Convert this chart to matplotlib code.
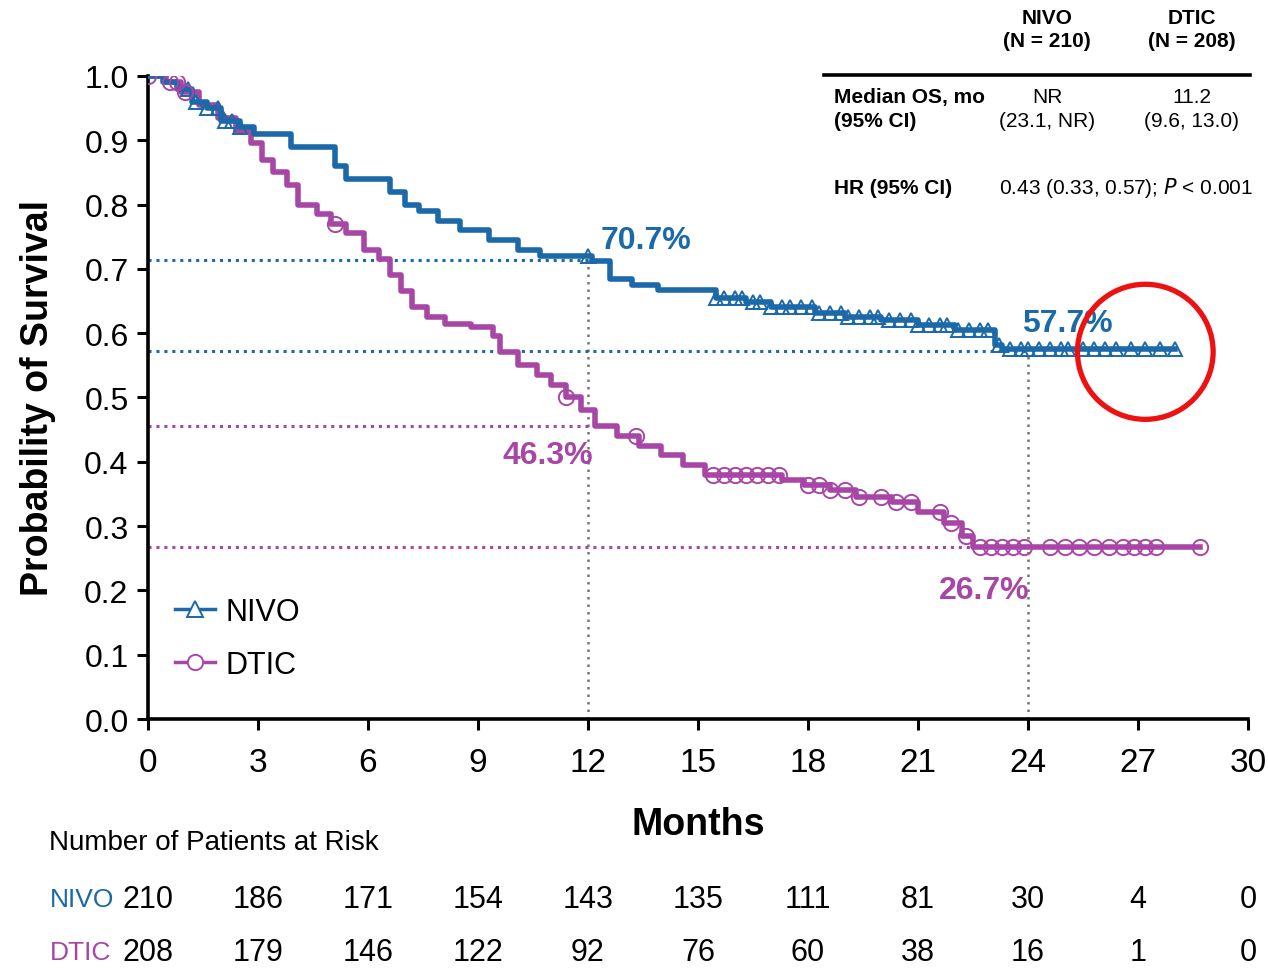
import numpy as np
import matplotlib
matplotlib.use('Agg')
from matplotlib import pyplot as plt
from matplotlib.lines import Line2D
from matplotlib.patches import Ellipse
import matplotlib.transforms as mtransforms

# data
nivo_t = [0, 0.4, 0.8, 1.2, 1.6, 2.0, 2.5, 2.9, 3.9, 5.1, 5.4, 6.6, 7.0, 7.4, 7.9, 8.5,
          9.3, 10.1, 10.7, 12.1, 12.6, 13.2, 13.9, 15.5, 16.3, 17.0, 18.2, 19.0, 20.0,
          21.0, 22.0, 23.1, 23.3, 28.0]
nivo_s = [1.0, 0.99, 0.98, 0.96, 0.95, 0.93, 0.92, 0.91, 0.89, 0.86, 0.84, 0.82, 0.80,
          0.79, 0.775, 0.76, 0.745, 0.73, 0.72, 0.712, 0.685, 0.675, 0.667, 0.655, 0.648,
          0.64, 0.632, 0.625, 0.62, 0.612, 0.605, 0.582, 0.575, 0.575]
nivo_cens = [1.1, 1.3, 1.6, 1.9, 2.1, 2.3, 2.5, 12.0, 15.5, 15.7, 16.0, 16.2, 16.5, 16.7,
             17.0, 17.3, 17.5, 17.8, 18.1, 18.3, 18.6, 18.9, 19.1, 19.4, 19.7, 19.9, 20.2,
             20.5, 20.8, 21.0, 21.3, 21.6, 21.8, 22.1, 22.4, 22.7, 22.9, 23.2, 23.5, 23.8,
             24.0, 24.3, 24.6, 24.9, 25.1, 25.5, 25.8, 26.1, 26.4, 26.8, 27.2, 27.6, 28.0]

dtic_t = [0, 0.5, 0.9, 1.4, 1.9, 2.4, 2.8, 3.1, 3.4, 3.8, 4.1, 4.6, 5.0, 5.4, 5.9, 6.3,
          6.6, 6.9, 7.2, 7.6, 8.1, 8.8, 9.4, 9.6, 10.1, 10.6, 11.0, 11.4, 11.8, 12.2,
          12.8, 13.4, 14.0, 14.6, 15.2, 17.3, 17.9, 18.6, 19.3, 20.3, 21.0, 21.7, 22.2,
          22.5, 28.7]
dtic_s = [1.0, 0.99, 0.975, 0.955, 0.935, 0.915, 0.895, 0.87, 0.85, 0.83, 0.80, 0.785,
          0.77, 0.755, 0.73, 0.715, 0.69, 0.665, 0.64, 0.625, 0.615, 0.61, 0.595, 0.57,
          0.55, 0.535, 0.52, 0.50, 0.48, 0.455, 0.44, 0.425, 0.41, 0.395, 0.38, 0.372,
          0.364, 0.356, 0.345, 0.337, 0.322, 0.305, 0.285, 0.267, 0.267]
dtic_cens = [0.0, 0.6, 0.8, 1.0, 5.1, 11.4, 13.3, 15.4, 15.7, 16.0, 16.3, 16.6, 16.9,
             17.2, 18.0, 18.3, 18.6, 19.0, 19.4, 20.0, 20.4, 20.8, 21.6, 21.9, 22.3, 22.7,
             23.0, 23.3, 23.6, 23.9, 24.6, 25.0, 25.4, 25.8, 26.2, 26.6, 26.9, 27.2, 27.5,
             28.7]

ticks_x = [0, 3, 6, 9, 12, 15, 18, 21, 24, 27, 30]
risk_nivo = [210, 186, 171, 154, 143, 135, 111, 81, 30, 4, 0]
risk_dtic = [208, 179, 146, 122, 92, 76, 60, 38, 16, 1, 0]

# landmark rates (label text, line height, time)
nivo_marks = [('70.7%', 0.713, 12), ('57.7%', 0.572, 24)]
dtic_marks = [('46.3%', 0.455, 12), ('26.7%', 0.267, 24)]

blue = '#1b69a8'
pink = '#a846a6'
plt.rcParams['font.family'] = ['Liberation Sans', 'DejaVu Sans']

fig = plt.figure(figsize=(12.68, 9.7), dpi=100)
ax = fig.add_axes([0.1167, 0.2577, 0.8675, 0.663])


def surv_at(t, s, pts):
    idx = np.searchsorted(t, pts, side='right') - 1
    return np.array(s)[idx]


ax.step(nivo_t, nivo_s, where='post', color=blue, lw=4, zorder=4)
ax.plot(nivo_cens, surv_at(nivo_t, nivo_s, nivo_cens), ls='none', marker='^', ms=10,
        mfc='none', mec=blue, mew=1.4, zorder=5)
ax.step(dtic_t, dtic_s, where='post', color=pink, lw=4, zorder=3)
ax.plot(dtic_cens, surv_at(dtic_t, dtic_s, dtic_cens), ls='none', marker='o', ms=11,
        mfc='none', mec=pink, mew=1.4, zorder=5)

# landmark guides
for lab, yv, tx in nivo_marks:
    ax.plot([0, tx], [yv, yv], ls=(0, (1, 1.6)), color=blue, lw=2.2, zorder=2)
for lab, yv, tx in dtic_marks:
    ax.plot([0, tx], [yv, yv], ls=(0, (1, 1.6)), color=pink, lw=2.2, zorder=2)
ax.plot([12, 12], [0, 0.713], ls=(0, (1, 2)), color='#777777', lw=1.8, zorder=1)
ax.plot([24, 24], [0, 0.572], ls=(0, (1, 2)), color='#777777', lw=1.8, zorder=1)

pct = dict(fontsize=23, fontweight='bold')
ax.text(12.35, 0.745, nivo_marks[0][0], color=blue, va='center', ha='left', **pct)
ax.text(23.85, 0.616, nivo_marks[1][0], color=blue, va='center', ha='left', **pct)
ax.text(12.15, 0.41, dtic_marks[0][0], color=pink, va='center', ha='right', **pct)
ax.text(24.05, 0.2, dtic_marks[1][0], color=pink, va='center', ha='right', **pct)

# red highlight circle
ax.add_patch(Ellipse((27.2, 0.571), 3.7, 0.21, fill=False, ec='#ee1111', lw=3.8,
                     clip_on=False, zorder=6))

ax.set_xlim(0, 30)
ax.set_ylim(0, 1.0)
ax.set_xticks(ticks_x)
ax.set_yticks(np.arange(0, 1.01, 0.1))
ax.set_yticklabels(['%.1f' % v for v in np.arange(0, 1.01, 0.1)], fontsize=23)
ax.set_xticklabels([str(v) for v in ticks_x], fontsize=24)
for sp in ['top', 'right']:
    ax.spines[sp].set_visible(False)
for sp in ['left', 'bottom']:
    ax.spines[sp].set_linewidth(2.6)
ax.tick_params(width=2.2, length=8, direction='out', pad=6)
ax.tick_params(axis='x', pad=12)
ax.set_ylabel('Probability of Survival', fontsize=27, fontweight='bold', labelpad=20)
ax.set_xlabel('Months', fontsize=27, fontweight='bold', labelpad=20)

handles = [Line2D([], [], color=blue, lw=2.5, marker='^', ms=11, mfc='white', mec=blue, mew=1.4),
           Line2D([], [], color=pink, lw=2.5, marker='o', ms=11, mfc='white', mec=pink, mew=1.4)]
ax.legend(handles, ['NIVO', 'DTIC'], loc='lower left', bbox_to_anchor=(0.0, 0.018),
          frameon=False, handlelength=1.3, labelspacing=0.75, handletextpad=0.35,
          prop={'size': 22})

# summary table (top right)
tb = dict(fontsize=15, linespacing=1.3)
fig.text(0.8257, 0.991, 'NIVO\n(N = 210)', ha='center', va='top', fontweight='bold', **tb)
fig.text(0.940, 0.991, 'DTIC\n(N = 208)', ha='center', va='top', fontweight='bold', **tb)
fig.add_artist(Line2D([0.650, 0.986], [0.922, 0.922], color='black', lw=2.6))
fig.text(0.658, 0.909, 'Median OS, mo\n(95% CI)', ha='left', va='top', fontweight='bold', **tb)
fig.text(0.8257, 0.909, 'NR\n(23.1, NR)', ha='center', va='top', **tb)
fig.text(0.940, 0.909, '11.2\n(9.6, 13.0)', ha='center', va='top', **tb)
fig.text(0.658, 0.806, 'HR (95% CI)', ha='left', va='center', fontweight='bold', **tb)
fig.text(0.788, 0.806, r'0.43 (0.33, 0.57); $\it{P}$ < 0.001', ha='left', va='center', **tb)

# number at risk
trans = mtransforms.blended_transform_factory(ax.transData, fig.transFigure)
fig.text(0.039, 0.131, 'Number of Patients at Risk', fontsize=20, va='center', ha='left')
fig.text(0.039, 0.072, 'NIVO', fontsize=19, color=blue, va='center')
fig.text(0.039, 0.018, 'DTIC', fontsize=19, color=pink, va='center')
for tx, n1, n2 in zip(ticks_x, risk_nivo, risk_dtic):
    ax.text(tx, 0.072, str(n1), transform=trans, ha='center', va='center', fontsize=22,
            clip_on=False)
    ax.text(tx, 0.018, str(n2), transform=trans, ha='center', va='center', fontsize=22,
            clip_on=False)

fig.savefig('out.png', dpi=100)
